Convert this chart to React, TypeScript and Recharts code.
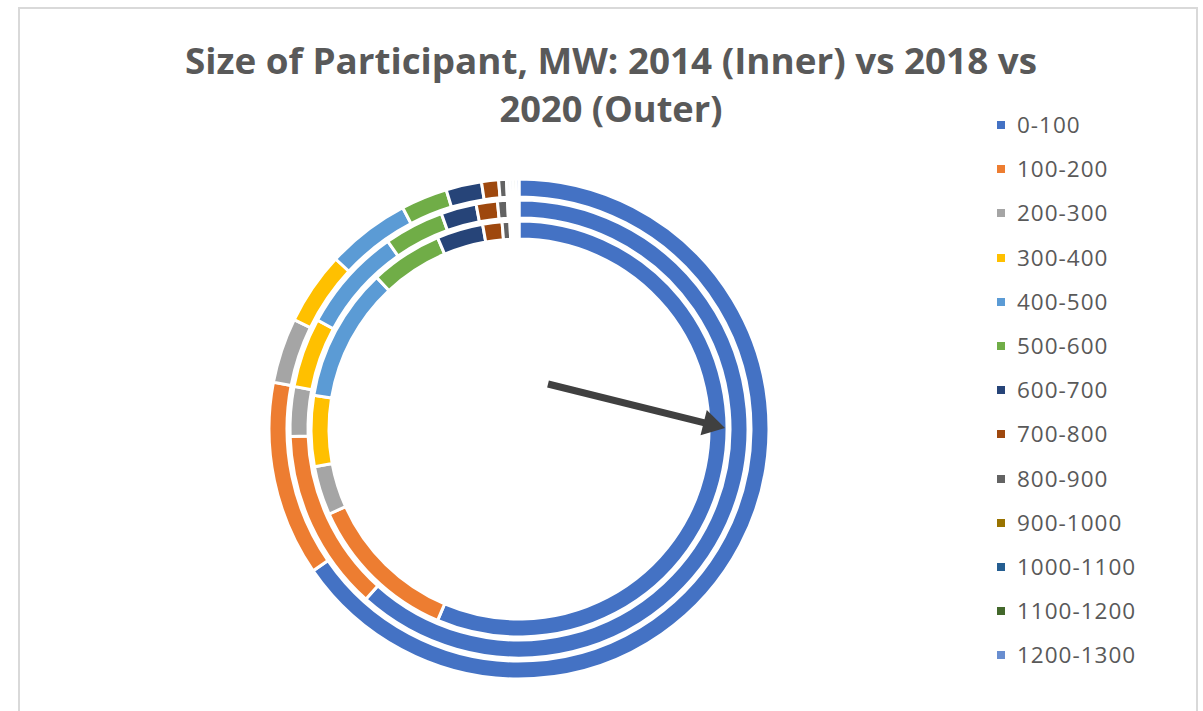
import { PieChart, Pie, Cell, Legend } from 'recharts';

const categories = [
  '0-100', '100-200', '200-300', '300-400', '400-500', '500-600', '600-700',
  '700-800', '800-900', '900-1000', '1000-1100', '1100-1200', '1200-1300',
];

// share of participants, %
const share2014 = [56.4, 11.9, 3.8, 5.5, 10.4, 5.6, 3.6, 1.5, 0.6, 0.2, 0.2, 0.2, 0.1];
const share2018 = [61.6, 12.8, 3.5, 4.9, 7.4, 4.2, 2.5, 1.5, 0.7, 0.2, 0.2, 0.2, 0.2];
const share2020 = [65.4, 12.6, 4.2, 4.7, 5.4, 3.0, 2.3, 1.1, 0.5, 0.2, 0.2, 0.2, 0.2];

const COLORS = [
  '#4472C4', '#ED7D31', '#A5A5A5', '#FFC000', '#5B9BD5', '#70AD47', '#264478',
  '#9E480E', '#636363', '#997300', '#255E91', '#43682B', '#698ED0',
];

const toRows = (vals: number[]) => categories.map((name, i) => ({ name, value: vals[i] }));

// recharts adds the default 5px margin to cx/cy
const CX = 514;
const CY = 424;
const rings = [
  { key: '2014', data: toRows(share2014), inner: 190, outer: 208 },
  { key: '2018', data: toRows(share2018), inner: 211, outer: 229 },
  { key: '2020', data: toRows(share2020), inner: 232, outer: 250 },
];

const textColor = '#595959';

function LegendList() {
  return (
    <div style={{ fontFamily: '"Open Sans", sans-serif', fontSize: 22.5, color: textColor }}>
      {categories.map((c, i) => (
        <div key={c} style={{ display: 'flex', alignItems: 'center', height: 44.2, lineHeight: '44px' }}>
          <span style={{ width: 8, height: 8, background: COLORS[i], marginRight: 12, display: 'inline-block' }} />
          <span style={{ letterSpacing: 1 }}>{c}</span>
        </div>
      ))}
    </div>
  );
}

// arrow annotation
const arrowFrom = { x: 548, y: 384 };
const arrowTip = { x: 725, y: 428 };

function Arrow() {
  const dx = arrowTip.x - arrowFrom.x;
  const dy = arrowTip.y - arrowFrom.y;
  const len = Math.hypot(dx, dy);
  const ux = dx / len, uy = dy / len;
  const headLen = 22, halfW = 13;
  const bx = arrowTip.x - ux * headLen, by = arrowTip.y - uy * headLen;
  const pts = [
    `${arrowTip.x},${arrowTip.y}`,
    `${bx - uy * halfW},${by + ux * halfW}`,
    `${bx + uy * halfW},${by - ux * halfW}`,
  ].join(' ');
  return (
    <g>
      <line x1={arrowFrom.x} y1={arrowFrom.y} x2={bx + ux * 2} y2={by + uy * 2} stroke="#404040" strokeWidth={7} />
      <polygon points={pts} fill="#404040" />
    </g>
  );
}

export default function App() {
  return (
    <div style={{ position: 'absolute', left: 0, top: 0, width: 1203, height: 711, overflow: 'hidden', background: '#fff' }}>
      <div style={{ position: 'absolute', left: 18, top: 7, width: 1180, height: 740, border: '2px solid #d9d9d9', boxSizing: 'border-box' }} />
      <div style={{ position: 'absolute', left: 0, top: 0 }}>
        <PieChart width={1203} height={711}>
          {rings.map((r) => (
            <Pie
              key={r.key}
              data={r.data}
              dataKey="value"
              nameKey="name"
              cx={CX}
              cy={CY}
              innerRadius={r.inner}
              outerRadius={r.outer}
              startAngle={90}
              endAngle={-270}
              stroke="#ffffff"
              strokeWidth={3}
              isAnimationActive={false}
            >
              {r.data.map((_, i) => <Cell key={i} fill={COLORS[i % COLORS.length]} />)}
            </Pie>
          ))}
          <Legend
            content={() => <LegendList />}
            wrapperStyle={{ position: 'absolute', left: 997, top: 103, width: 200 }}
          />
        </PieChart>
      </div>
      <svg width={1203} height={711} style={{ position: 'absolute', left: 0, top: 0, pointerEvents: 'none' }}>
        <text x={611} y={74} textAnchor="middle" fontFamily='"Open Sans", sans-serif' fontWeight={700} fontSize={35}
          fill={textColor} textLength={852} lengthAdjust="spacingAndGlyphs">
          Size of Participant, MW: 2014 (Inner) vs 2018 vs
        </text>
        <text x={611} y={122} textAnchor="middle" fontFamily='"Open Sans", sans-serif' fontWeight={700} fontSize={35}
          fill={textColor} textLength={223} lengthAdjust="spacingAndGlyphs">
          2020 (Outer)
        </text>
        <Arrow />
      </svg>
    </div>
  );
}
